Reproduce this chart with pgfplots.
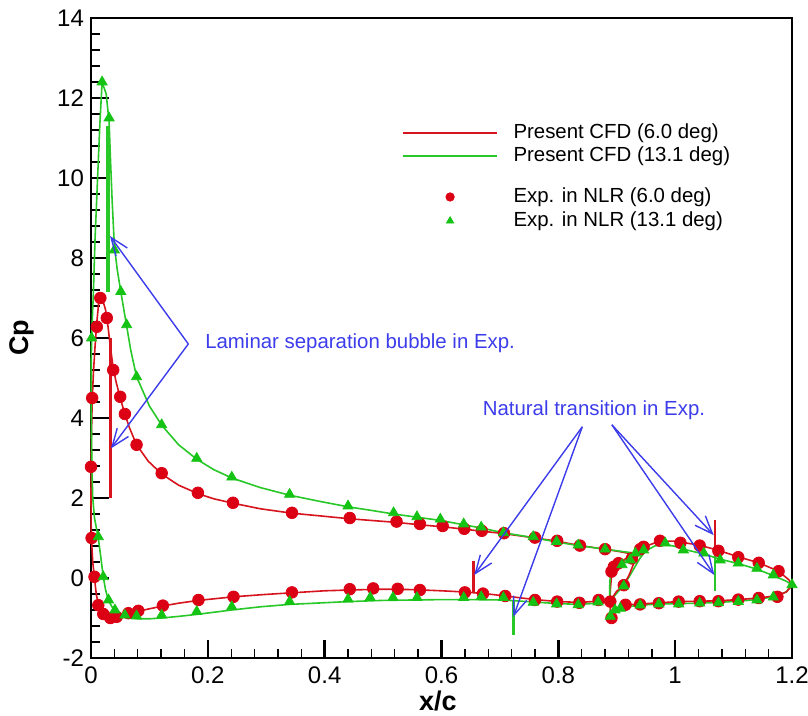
\documentclass[border=0pt]{standalone}
\usepackage{fontspec}
\setmainfont{Liberation Sans}
\usepackage{pgfplots}
\pgfplotsset{compat=1.18}
\usetikzlibrary{arrows.meta}

\definecolor{cfdred}{RGB}{215,20,30}
\definecolor{cfdgreen}{RGB}{40,200,40}
\definecolor{expred}{RGB}{220,0,20}
\definecolor{expgreen}{RGB}{20,195,20}
\definecolor{noteblue}{RGB}{60,60,235}

\tikzset{note/.style={draw=noteblue, line width=0.7pt, -{Straight Barb[length=9pt,width=7pt]}},
  keytext/.style={anchor=west, inner sep=0pt, font=\fontsize{10.2}{12}\selectfont}}

\begin{document}
\begin{tikzpicture}
\begin{axis}[
  scale only axis, width=350.5pt, height=320pt,
  xmin=0, xmax=1.2, ymin=-2, ymax=14,
  clip=false,
  xtick={0,0.2,0.4,0.6,0.8,1,1.2},
  xticklabels={0,0.2,0.4,0.6,0.8,1,1.2},
  ytick={-2,0,2,4,6,8,10,12,14},
  yticklabels={-2,0,2,4,6,8,10,12,14},
  minor x tick num=4, minor y tick num=4,
  tick align=inside, xtick pos=bottom, ytick pos=left,
  major tick length=9pt, minor tick length=4.5pt,
  major tick style={line width=1.3pt, black},
  minor tick style={line width=0.7pt, black},
  axis line style={line width=1.3pt},
  ticklabel style={font=\fontsize{12}{14}\selectfont},
  xticklabel style={yshift=-1pt},
  xlabel={x/c}, ylabel={Cp},
  label style={font=\fontsize{13.5}{16}\selectfont\bfseries},
  xlabel style={at={(axis description cs:0.495,-0.067)}, anchor=center},
  ylabel style={at={(axis description cs:-0.098,0.5)}, anchor=center},
]

% CFD 6.0 deg, main element
\addplot[draw=cfdred, line width=0.8pt] coordinates {
(0.926,0.60) (0.905,0.66) (0.88,0.72) (0.837,0.81) (0.798,0.92) (0.76,1.00) (0.707,1.11)
(0.669,1.17) (0.639,1.22) (0.602,1.28) (0.563,1.33) (0.523,1.39) (0.443,1.48) (0.394,1.55)
(0.344,1.62) (0.29,1.73) (0.243,1.87) (0.21,1.98) (0.183,2.11) (0.15,2.32) (0.121,2.6)
(0.098,2.92) (0.078,3.33) (0.066,3.75) (0.058,4.1) (0.05,4.5) (0.043,4.9) (0.038,5.25)
(0.033,5.8) (0.029,6.3) (0.025,6.7) (0.02,6.95) (0.016,7.0) (0.013,6.85) (0.01,6.4)
(0.007,5.8) (0.004,5.1) (0.002,4.4) (0.0007,3.5) (0.0002,2.6) (0.0,2.0) (0.0003,1.3)
(0.001,0.9) (0.003,0.4) (0.006,0.0) (0.009,-0.4) (0.0125,-0.66) (0.017,-0.83) (0.022,-0.92)
(0.03,-0.98) (0.04,-0.99) (0.05,-0.96) (0.064,-0.9) (0.081,-0.83) (0.1,-0.77) (0.123,-0.7)
(0.15,-0.63) (0.184,-0.56) (0.244,-0.47) (0.3,-0.41) (0.344,-0.37) (0.4,-0.32) (0.443,-0.3)
(0.5,-0.28) (0.55,-0.29) (0.6,-0.32) (0.64,-0.35) (0.68,-0.4) (0.709,-0.45) (0.76,-0.54)
(0.8,-0.59) (0.836,-0.61) (0.869,-0.58) (0.888,-0.58) (0.889,-0.3) (0.891,0.05) (0.895,0.22)
(0.903,0.35) (0.915,0.48) (0.926,0.60)};

% CFD 13.1 deg, main element
\addplot[draw=cfdgreen, line width=0.8pt] coordinates {
(0.932,0.62) (0.905,0.67) (0.88,0.72) (0.834,0.81) (0.797,0.9) (0.757,1.01) (0.706,1.13)
(0.668,1.25) (0.638,1.33) (0.598,1.44) (0.558,1.52) (0.518,1.6) (0.48,1.69) (0.44,1.78)
(0.39,1.92) (0.34,2.07) (0.29,2.26) (0.241,2.5) (0.21,2.71) (0.181,2.97) (0.15,3.33)
(0.121,3.82) (0.1,4.3) (0.078,5.03) (0.068,5.7) (0.061,6.3) (0.051,7.16) (0.045,7.7)
(0.04,8.3) (0.036,9.5) (0.033,10.6) (0.031,11.4) (0.026,12.1) (0.019,12.4) (0.015,11.3)
(0.011,9.9) (0.007,8.5) (0.004,7.1) (0.0015,6.2) (0.0005,5.5) (0.0005,4.0) (0.0015,2.8)
(0.003,2.0) (0.006,1.5) (0.0125,1.0) (0.017,0.5) (0.021,0.03) (0.025,-0.3) (0.03,-0.57)
(0.036,-0.72) (0.041,-0.83) (0.05,-0.93) (0.06,-0.98) (0.08,-1.02) (0.1,-1.02) (0.121,-1.0)
(0.15,-0.96) (0.181,-0.91) (0.241,-0.8) (0.29,-0.72) (0.34,-0.66) (0.44,-0.59) (0.5,-0.56)
(0.55,-0.55) (0.6,-0.54) (0.65,-0.54) (0.706,-0.55) (0.757,-0.6) (0.8,-0.64) (0.834,-0.66)
(0.868,-0.63) (0.888,-0.6) (0.888,-0.2) (0.889,0.1) (0.895,0.22) (0.905,0.33) (0.918,0.48)
(0.932,0.62)};

% CFD 13.1 deg, flap
\addplot[draw=cfdgreen, line width=0.8pt] coordinates {
(0.889,-1.0) (0.889,-0.75) (0.89,-0.55) (0.9,-0.38) (0.909,-0.23) (0.92,0.0) (0.93,0.25)
(0.94,0.5) (0.95,0.68) (0.965,0.8) (0.983,0.84) (1.0,0.79) (1.014,0.72) (1.049,0.6)
(1.077,0.47) (1.108,0.36) (1.14,0.22) (1.168,0.06) (1.19,-0.08) (1.2,-0.17) (1.19,-0.35)
(1.168,-0.47) (1.14,-0.54) (1.108,-0.58) (1.074,-0.61) (1.042,-0.63) (1.006,-0.64)
(0.972,-0.65) (0.94,-0.68) (0.906,-0.74) (0.897,-0.8) (0.891,-0.9) (0.889,-1.0)};

% CFD 6.0 deg, flap
\addplot[draw=cfdred, line width=0.8pt] coordinates {
(0.889,-1.0) (0.889,-0.75) (0.892,-0.5) (0.9,-0.33) (0.912,-0.18) (0.922,0.1) (0.93,0.4)
(0.94,0.65) (0.95,0.8) (0.974,0.92) (1.0,0.92) (1.042,0.82) (1.074,0.69) (1.108,0.53)
(1.143,0.38) (1.177,0.17) (1.195,-0.05) (1.2,-0.2) (1.19,-0.35) (1.175,-0.44) (1.143,-0.5)
(1.108,-0.54) (1.074,-0.57) (1.042,-0.58) (1.006,-0.59) (0.972,-0.62) (0.94,-0.65)
(0.915,-0.67) (0.9,-0.75) (0.892,-0.87) (0.889,-1.0)};

% transition locations
\addplot[draw=cfdgreen, line width=1.6pt] coordinates {(0.029,7.16) (0.029,11.3)};
\addplot[draw=cfdgreen, line width=1.2pt] coordinates {(0.723,-0.55) (0.723,-1.42)};
\addplot[draw=cfdgreen, line width=1.2pt] coordinates {(1.068,0.62) (1.068,-0.32)};
\addplot[draw=cfdred, line width=1.6pt] coordinates {(0.034,2.0) (0.034,6.0)};
\addplot[draw=cfdred, line width=1.2pt] coordinates {(0.655,-0.38) (0.655,0.42)};
\addplot[draw=cfdred, line width=1.2pt] coordinates {(1.068,0.7) (1.068,1.45)};

% experiment 6.0 deg
\addplot[only marks, mark=*, mark size=2.9pt, draw=expred, fill=expred] coordinates {
(0.001,1.0) (0.000,2.78) (0.002,4.5) (0.010,6.28) (0.016,7.0) (0.027,6.5) (0.038,5.2)
(0.050,4.53) (0.058,4.1) (0.078,3.33) (0.121,2.62) (0.183,2.13) (0.243,1.88) (0.344,1.63)
(0.443,1.5) (0.523,1.41) (0.563,1.35) (0.602,1.3) (0.639,1.23) (0.669,1.18) (0.707,1.12)
(0.760,1.01) (0.798,0.93) (0.837,0.81) (0.880,0.72)
(0.006,0.03) (0.0125,-0.68) (0.021,-0.9) (0.033,-1.0) (0.044,-0.97) (0.064,-0.88)
(0.081,-0.82) (0.123,-0.69) (0.184,-0.55) (0.244,-0.47) (0.344,-0.36) (0.443,-0.28)
(0.483,-0.26) (0.525,-0.27) (0.563,-0.3) (0.640,-0.36) (0.671,-0.39) (0.709,-0.45)
(0.760,-0.55) (0.798,-0.59) (0.836,-0.62) (0.869,-0.55) (0.889,-0.59)
(0.891,-1.0) (0.891,0.16) (0.895,0.28) (0.903,0.37) (0.912,-0.18) (0.926,0.49) (0.940,0.72)
(0.946,0.78) (0.974,0.93) (1.009,0.88) (1.042,0.81) (1.074,0.68) (1.108,0.52) (1.143,0.38)
(1.177,0.17)
(0.915,-0.67) (0.940,-0.66) (0.972,-0.63) (1.006,-0.59) (1.042,-0.58) (1.074,-0.58)
(1.108,-0.54) (1.143,-0.5) (1.175,-0.47)};

% experiment 13.1 deg
\addplot[only marks, mark=triangle*, mark size=2.9pt, draw=expgreen, fill=expgreen] coordinates {
(0.0125,1.03) (0.001,6.0) (0.051,7.16) (0.040,8.2) (0.031,11.5) (0.019,12.4) (0.061,6.33)
(0.078,5.03) (0.121,3.83) (0.181,2.99) (0.241,2.52) (0.340,2.09) (0.440,1.8) (0.518,1.63)
(0.558,1.53) (0.598,1.47) (0.638,1.35) (0.668,1.27) (0.706,1.13) (0.757,1.03) (0.797,0.91)
(0.834,0.82) (0.880,0.72)
(0.021,0.03) (0.030,-0.55) (0.041,-0.8) (0.058,-0.93) (0.078,-0.95) (0.121,-0.93)
(0.181,-0.84) (0.241,-0.72) (0.340,-0.59) (0.440,-0.53) (0.478,-0.49) (0.517,-0.49)
(0.558,-0.49) (0.638,-0.49) (0.668,-0.47) (0.706,-0.49) (0.757,-0.61) (0.797,-0.65)
(0.834,-0.67) (0.868,-0.6)
(0.889,-0.96) (0.897,-0.8) (0.906,-0.76) (0.909,0.33) (0.923,0.45) (0.932,0.62) (0.946,0.7)
(0.912,-0.2) (0.983,0.87) (1.014,0.7) (1.049,0.62) (1.077,0.45) (1.108,0.37) (1.14,0.24)
(1.168,0.075) (1.2,-0.17)
(0.940,-0.68) (0.972,-0.65) (1.006,-0.65) (1.042,-0.63) (1.074,-0.62) (1.108,-0.59)
(1.14,-0.55) (1.168,-0.48)};

% key
\addplot[draw=cfdred, line width=0.8pt] coordinates {(0.534,11.125) (0.695,11.125)};
\addplot[draw=cfdgreen, line width=0.8pt] coordinates {(0.534,10.55) (0.695,10.55)};
\addplot[only marks, mark=*, mark size=2.1pt, draw=expred, fill=expred] coordinates {(0.6147,9.525)};
\addplot[only marks, mark=triangle*, mark size=2.1pt, draw=expgreen, fill=expgreen] coordinates {(0.6147,8.925)};

% annotation anchor points
\coordinate (k1) at (axis cs:0.7226,11.125);
\coordinate (k2) at (axis cs:0.7226,10.55);
\coordinate (k3) at (axis cs:0.7226,9.525);
\coordinate (k4) at (axis cs:0.7226,8.925);
\coordinate (va) at (axis cs:0.1666,5.85);
\coordinate (ta1) at (axis cs:0.0325,8.55);
\coordinate (ta2) at (axis cs:0.0342,3.24);
\coordinate (vb) at (axis cs:0.841,3.78);
\coordinate (tb1) at (axis cs:0.656,0.075);
\coordinate (tb2) at (axis cs:0.723,-0.97);
\coordinate (vc) at (axis cs:0.8916,3.83);
\coordinate (tc1) at (axis cs:1.066,1.07);
\coordinate (tc2) at (axis cs:1.067,0.075);
\coordinate (lsb) at (axis cs:0.195,5.875);
\coordinate (ntr) at (axis cs:0.861,4.2);
\end{axis}
\node[keytext] at (k1) {Present CFD (6.0 deg)};
\node[keytext] at (k2) {Present CFD (13.1 deg)};
\node[keytext] at (k3) {Exp. in NLR (6.0 deg)};
\node[keytext] at (k4) {Exp. in NLR (13.1 deg)};
\draw[note] (va) -- (ta1);
\draw[note] (va) -- (ta2);
\draw[note] (vb) -- (tb1);
\draw[note] (vb) -- (tb2);
\draw[note] (vc) -- (tc1);
\draw[note] (vc) -- (tc2);
\node[anchor=west, inner sep=0pt, text=noteblue, font=\fontsize{10.2}{12}\selectfont] at (lsb) {Laminar separation bubble in Exp.};
\node[inner sep=0pt, text=noteblue, font=\fontsize{10.2}{12}\selectfont] at (ntr) {Natural transition in Exp.};
\pgfresetboundingbox
\path ([shift={(-45.5pt,-29pt)}]current axis.south west) rectangle ([shift={(8pt,9pt)}]current axis.north east);
\end{tikzpicture}
\end{document}
